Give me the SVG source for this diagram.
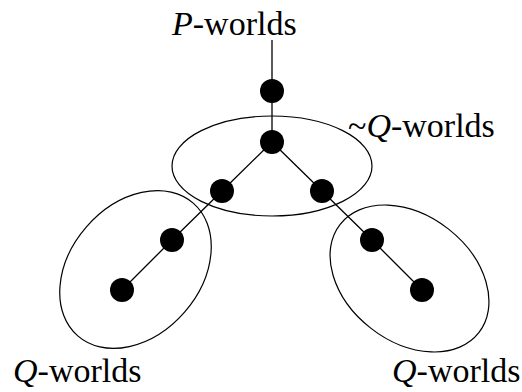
<svg xmlns="http://www.w3.org/2000/svg" width="522" height="392" viewBox="0 0 522 392">
<style>
.edge{stroke:#000;stroke-width:1.3;fill:none}
.region{stroke:#000;stroke-width:1.2;fill:none}
.dot{fill:#000}
.lbl{font-family:"Liberation Serif","Times New Roman",serif;font-size:34px;fill:#000}
.it{font-style:italic}
</style>
<rect width="522" height="392" fill="#fff"/>
<g id="connectors">
<line class="edge" x1="272" y1="40" x2="272" y2="91"/>
<line class="edge" x1="272" y1="91" x2="272" y2="142"/>
<line class="edge" x1="272" y1="142" x2="222" y2="191"/>
<line class="edge" x1="272" y1="142" x2="322" y2="191"/>
<line class="edge" x1="222" y1="191" x2="172" y2="240"/>
<line class="edge" x1="172" y1="240" x2="122" y2="290"/>
<line class="edge" x1="322" y1="191" x2="372" y2="240"/>
<line class="edge" x1="372" y1="240" x2="422" y2="290"/>
</g>
<g id="region-notQ"><ellipse class="region" cx="272" cy="166" rx="100" ry="50"/></g>
<g id="region-Q-left"><ellipse class="region" cx="135.5" cy="269.5" rx="88" ry="65" transform="rotate(-49 135.5 269.5)"/></g>
<g id="region-Q-right"><ellipse class="region" cx="409.5" cy="278.5" rx="88" ry="63" transform="rotate(38 409.5 278.5)"/></g>
<g id="n1"><circle class="dot" cx="272" cy="91" r="12"/></g>
<g id="n2"><circle class="dot" cx="272" cy="142" r="12"/></g>
<g id="n3"><circle class="dot" cx="222" cy="191" r="12"/></g>
<g id="n4"><circle class="dot" cx="322" cy="191" r="12"/></g>
<g id="n5"><circle class="dot" cx="172" cy="240" r="12"/></g>
<g id="n6"><circle class="dot" cx="372" cy="240" r="12"/></g>
<g id="n7"><circle class="dot" cx="122" cy="290" r="12"/></g>
<g id="n8"><circle class="dot" cx="422" cy="290" r="12"/></g>
<g id="labels">
<text class="lbl" x="172" y="35"><tspan class="it">P</tspan>-worlds</text>
<text class="lbl" x="348" y="137">~<tspan class="it">Q</tspan>-worlds</text>
<text class="lbl" x="13" y="382"><tspan class="it">Q</tspan>-worlds</text>
<text class="lbl" x="392" y="382"><tspan class="it">Q</tspan>-worlds</text>
</g>
</svg>
